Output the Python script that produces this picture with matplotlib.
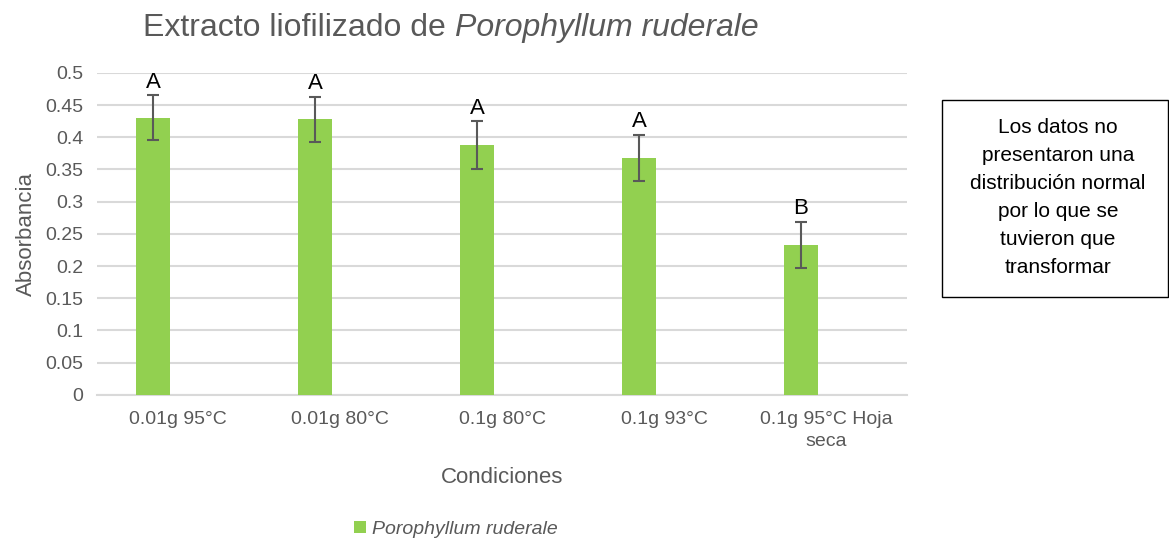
import numpy as np
import matplotlib.pyplot as plt

plt.rcParams['font.family'] = ['Liberation Sans', 'DejaVu Sans']

categories = ["0.01g 95°C", "0.01g 80°C", "0.1g 80°C", "0.1g 93°C", "0.1g 95°C Hoja\nseca"]
absorbance = [0.430, 0.428, 0.388, 0.368, 0.233]
errors = [0.035, 0.035, 0.037, 0.036, 0.036]
letters = ["A", "A", "A", "A", "B"]
y_ticks = [0, 0.05, 0.1, 0.15, 0.2, 0.25, 0.3, 0.35, 0.4, 0.45, 0.5]
y_tick_labels = ["0", "0.05", "0.1", "0.15", "0.2", "0.25", "0.3", "0.35", "0.4", "0.45", "0.5"]

green = "#92D050"
gray = "#595959"

fig = plt.figure(figsize=(11.69, 5.4), dpi=100)
ax = fig.add_axes([0.083, 0.269, 0.693, 0.596])

x = np.arange(len(categories))
offset = -0.155
ax.bar(x + offset, absorbance, width=0.21, color=green, zorder=3,
       label="Porophyllum ruderale")
ax.errorbar(x + offset, absorbance, yerr=errors, fmt='none', ecolor=gray,
            elinewidth=1.5, capsize=4, capthick=1.5, zorder=4)
for xi, v, e, l in zip(x, absorbance, errors, letters):
    ax.text(xi + offset, v + e + 0.004, l, ha='center', va='bottom',
            fontsize=16, color='black')

ax.set_xlim(-0.5, len(categories) - 0.5)
ax.set_ylim(0, 0.5)
ax.set_yticks(y_ticks)
ax.set_yticklabels(y_tick_labels)
ax.set_xticks(x)
ax.set_xticklabels(categories, linespacing=1.35)
ax.yaxis.grid(True, color="#D9D9D9", linewidth=1.5, zorder=0)
ax.set_axisbelow(True)
for s in ['top', 'right', 'left']:
    ax.spines[s].set_visible(False)
ax.spines['bottom'].set_color("#D9D9D9")
ax.spines['bottom'].set_linewidth(1.5)
ax.tick_params(axis='both', length=0, labelsize=14, labelcolor=gray)
ax.tick_params(axis='x', pad=12)
ax.tick_params(axis='y', pad=10)

ax.set_ylabel("Absorbancia", fontsize=16, color=gray, labelpad=6)
ax.set_xlabel("Condiciones", fontsize=16, color=gray, labelpad=12)

fig.text(0.389, 0.948, "Extracto liofilizado de ", fontsize=23, color=gray,
         ha='right', va='center')
fig.text(0.389, 0.948, "Porophyllum ruderale", fontsize=23, color=gray,
         ha='left', va='center', style='italic')

leg = fig.legend(loc='center', bbox_to_anchor=(0.39, 0.02), frameon=False,
                 prop={'style': 'italic', 'size': 14}, handlelength=0.6,
                 handleheight=0.6, handletextpad=0.3, borderpad=0)
for t in leg.get_texts():
    t.set_color(gray)

fig.text(0.905, 0.635, "Los datos no\npresentaron una\ndistribución normal\npor lo que se\ntuvieron que\ntransformar",
         ha='center', va='center', fontsize=15, color='black', linespacing=1.6)
box = plt.Rectangle((942 / 1169, 1 - 297 / 540), (1168 - 942) / 1169, 197 / 540,
                    transform=fig.transFigure, fill=False, edgecolor='black',
                    linewidth=1)
fig.patches.append(box)

fig.savefig("out.png", dpi=100)
